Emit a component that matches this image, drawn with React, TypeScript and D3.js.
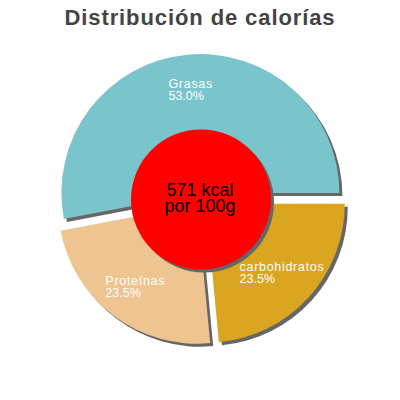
import * as d3 from 'd3'
import { useEffect, useRef } from 'react'

const labels = ['Grasas', 'Proteínas', 'carbohidratos']
const percents = [53.0, 23.5, 23.5]
const colors = ['#7ac4cc', '#eec591', '#daa520']
const title = 'Distribución de calorías'
const centerLines = ['571 kcal', 'por 100g']

const FONT = '"Liberation Sans", Arial, sans-serif'

export default function App() {
  const ref = useRef<SVGSVGElement | null>(null)

  useEffect(() => {
    if (!ref.current) return
    const svg = d3.select(ref.current)
    svg.selectAll('*').remove()

    const cx = 201
    const cy = 199.5
    const radius = 139
    const hole = 70
    const explode = 6.5
    const labelR = 103
    const shadow = { dx: 3, dy: 3, color: '#666' }

    // counter-clockwise from 3 o'clock
    const slices = d3.pie<number>()
      .sort(null)
      .value(d => d)
      .startAngle(Math.PI / 2)
      .endAngle(Math.PI / 2 - 2 * Math.PI)(percents)

    const arc = d3.arc<d3.PieArcDatum<number>>().innerRadius(0).outerRadius(radius)
    const mid = (s: d3.PieArcDatum<number>) => (s.startAngle + s.endAngle) / 2
    const off = (s: d3.PieArcDatum<number>) => [Math.sin(mid(s)) * explode, -Math.cos(mid(s)) * explode]

    svg.append('text')
      .attr('x', 200)
      .attr('y', 25)
      .attr('text-anchor', 'middle')
      .attr('font-family', FONT)
      .attr('font-weight', 'bold')
      .attr('font-size', 22)
      .attr('letter-spacing', 0.9)
      .attr('fill', '#444')
      .text(title)

    const pie = svg.append('g')

    pie.selectAll('.shadow')
      .data(slices)
      .join('path')
      .attr('class', 'shadow')
      .attr('transform', d => `translate(${cx + off(d)[0] + shadow.dx},${cy + off(d)[1] + shadow.dy})`)
      .attr('fill', shadow.color)
      .attr('d', arc)

    pie.selectAll('.slice')
      .data(slices)
      .join('path')
      .attr('class', 'slice')
      .attr('transform', d => `translate(${cx + off(d)[0]},${cy + off(d)[1]})`)
      .attr('fill', (_, i) => colors[i])
      .attr('d', arc)

    slices.forEach((s, i) => {
      const a = mid(s)
      const ax = cx + off(s)[0] + Math.sin(a) * labelR
      const ay = cy + off(s)[1] - Math.cos(a) * labelR
      const g = svg.append('g')
        .attr('font-family', FONT)
        .attr('font-size', 12.5)
        .attr('fill', '#fff')
      g.append('text').attr('x', 0).attr('y', -2).attr('letter-spacing', 0.7).text(labels[i])
      g.append('text').attr('x', 0).attr('y', 9.7).text(`${percents[i].toFixed(1)}%`)
      const w = (g.node() as SVGGElement).getBBox().width
      g.attr('transform', `translate(${ax - w / 2},${ay})`)
    })

    svg.append('circle')
      .attr('cx', cx + shadow.dx)
      .attr('cy', cy + shadow.dy)
      .attr('r', hole)
      .attr('fill', shadow.color)

    svg.append('circle')
      .attr('cx', cx)
      .attr('cy', cy)
      .attr('r', hole)
      .attr('fill', '#ff0000')

    svg.append('g')
      .attr('font-family', FONT)
      .attr('font-size', 18)
      .attr('text-anchor', 'middle')
      .attr('fill', '#000')
      .selectAll('text')
      .data(centerLines)
      .join('text')
      .attr('x', cx - 1)
      .attr('y', (_, i) => cy - 3.5 + i * 16)
      .text(d => d)
  }, [])

  return (
    <svg
      ref={ref}
      width={400}
      height={400}
      style={{ position: 'absolute', left: 0, top: 0, background: '#fff' }}
    />
  )
}
